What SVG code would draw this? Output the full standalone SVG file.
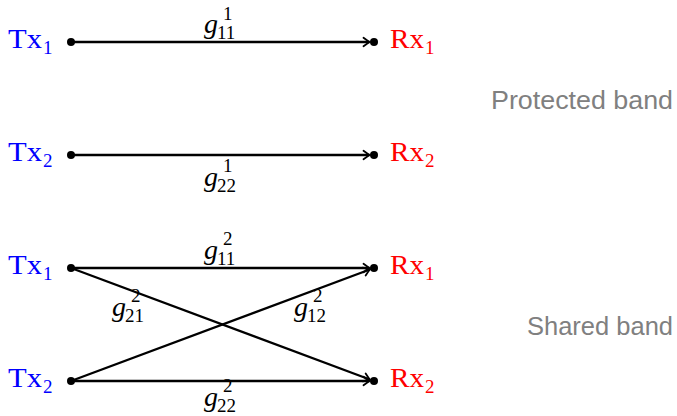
<svg xmlns="http://www.w3.org/2000/svg" width="677" height="416" viewBox="0 0 677 416">
<style>
.tx{font-family:"Liberation Serif",serif;font-size:28px;fill:#0000ff}
.rx{font-family:"Liberation Serif",serif;font-size:28px;fill:#ff0000}
.sb{font-size:19px}
.g{font-family:"Liberation Serif",serif;font-size:28px;font-style:italic;fill:#000}
.d{font-family:"Liberation Serif",serif;font-size:19px;fill:#000}
.band{font-family:"Liberation Sans","DejaVu Sans",sans-serif;font-size:26px;fill:#808080}
.edge{stroke:#000;stroke-width:2.3;fill:none;marker-end:url(#arr)}
.dot{fill:#000}
</style>
<defs>
<marker id="arr" markerUnits="userSpaceOnUse" viewBox="-7 -5 8 10" markerWidth="8" markerHeight="10" refX="0" refY="0" orient="auto" overflow="visible">
<path d="M-6,-4.2 Q-2,-1.2 0,0 Q-2,1.2 -6,4.2" fill="none" stroke="#000" stroke-width="1.8" stroke-linecap="round"/>
</marker>
</defs>
<rect width="677" height="416" fill="#fff"/>

<g id="connectors">
<line class="edge" x1="71" y1="42" x2="369.5" y2="42"/>
<line class="edge" x1="71" y1="155" x2="369.5" y2="155"/>
<line class="edge" x1="71" y1="268" x2="369.5" y2="268"/>
<line class="edge" x1="71" y1="381" x2="369.5" y2="381"/>
<line class="edge" x1="71" y1="268" x2="369.8" y2="379.5"/>
<line class="edge" x1="71" y1="381" x2="369.8" y2="269.5"/>
</g>

<g id="edge-labels">
<g id="lbl-g1-11"><text class="g" x="204" y="33">g</text><text class="d" x="223" y="20">1</text><text class="d" x="217" y="39">11</text></g>
<g id="lbl-g1-22"><text class="g" x="204" y="186">g</text><text class="d" x="223" y="172">1</text><text class="d" x="217" y="192">22</text></g>
<g id="lbl-g2-11"><text class="g" x="204" y="259">g</text><text class="d" x="223" y="245">2</text><text class="d" x="217" y="265">11</text></g>
<g id="lbl-g2-21"><text class="g" x="112" y="316">g</text><text class="d" x="131" y="302">2</text><text class="d" x="125" y="322">21</text></g>
<g id="lbl-g2-12"><text class="g" x="294" y="316">g</text><text class="d" x="313" y="302">2</text><text class="d" x="307" y="322">12</text></g>
<g id="lbl-g2-22"><text class="g" x="204" y="406">g</text><text class="d" x="223" y="392">2</text><text class="d" x="217" y="412">22</text></g>
</g>

<g id="tx1-protected"><circle class="dot" cx="71" cy="42" r="4"/><text class="tx" x="8" y="48" textLength="34" lengthAdjust="spacingAndGlyphs">Tx</text><text class="tx sb" x="43" y="54">1</text></g>
<g id="rx1-protected"><circle class="dot" cx="374" cy="42" r="4"/><text class="rx" x="390" y="48" textLength="34" lengthAdjust="spacingAndGlyphs">Rx</text><text class="rx sb" x="425" y="54">1</text></g>
<g id="tx2-protected"><circle class="dot" cx="71" cy="155" r="4"/><text class="tx" x="8" y="161" textLength="34" lengthAdjust="spacingAndGlyphs">Tx</text><text class="tx sb" x="43" y="167">2</text></g>
<g id="rx2-protected"><circle class="dot" cx="374" cy="155" r="4"/><text class="rx" x="390" y="161" textLength="34" lengthAdjust="spacingAndGlyphs">Rx</text><text class="rx sb" x="425" y="167">2</text></g>
<g id="tx1-shared"><circle class="dot" cx="71" cy="268" r="4"/><text class="tx" x="8" y="274" textLength="34" lengthAdjust="spacingAndGlyphs">Tx</text><text class="tx sb" x="43" y="280">1</text></g>
<g id="rx1-shared"><circle class="dot" cx="374" cy="268" r="4"/><text class="rx" x="390" y="274" textLength="34" lengthAdjust="spacingAndGlyphs">Rx</text><text class="rx sb" x="425" y="280">1</text></g>
<g id="tx2-shared"><circle class="dot" cx="71" cy="381" r="4"/><text class="tx" x="8" y="387" textLength="34" lengthAdjust="spacingAndGlyphs">Tx</text><text class="tx sb" x="43" y="393">2</text></g>
<g id="rx2-shared"><circle class="dot" cx="374" cy="381" r="4"/><text class="rx" x="390" y="387" textLength="34" lengthAdjust="spacingAndGlyphs">Rx</text><text class="rx sb" x="425" y="393">2</text></g>

<g id="band-protected"><text class="band" x="673" y="109" text-anchor="end" textLength="182" lengthAdjust="spacingAndGlyphs">Protected band</text></g>
<g id="band-shared"><text class="band" x="673" y="335" text-anchor="end" textLength="146" lengthAdjust="spacingAndGlyphs">Shared band</text></g>
</svg>
